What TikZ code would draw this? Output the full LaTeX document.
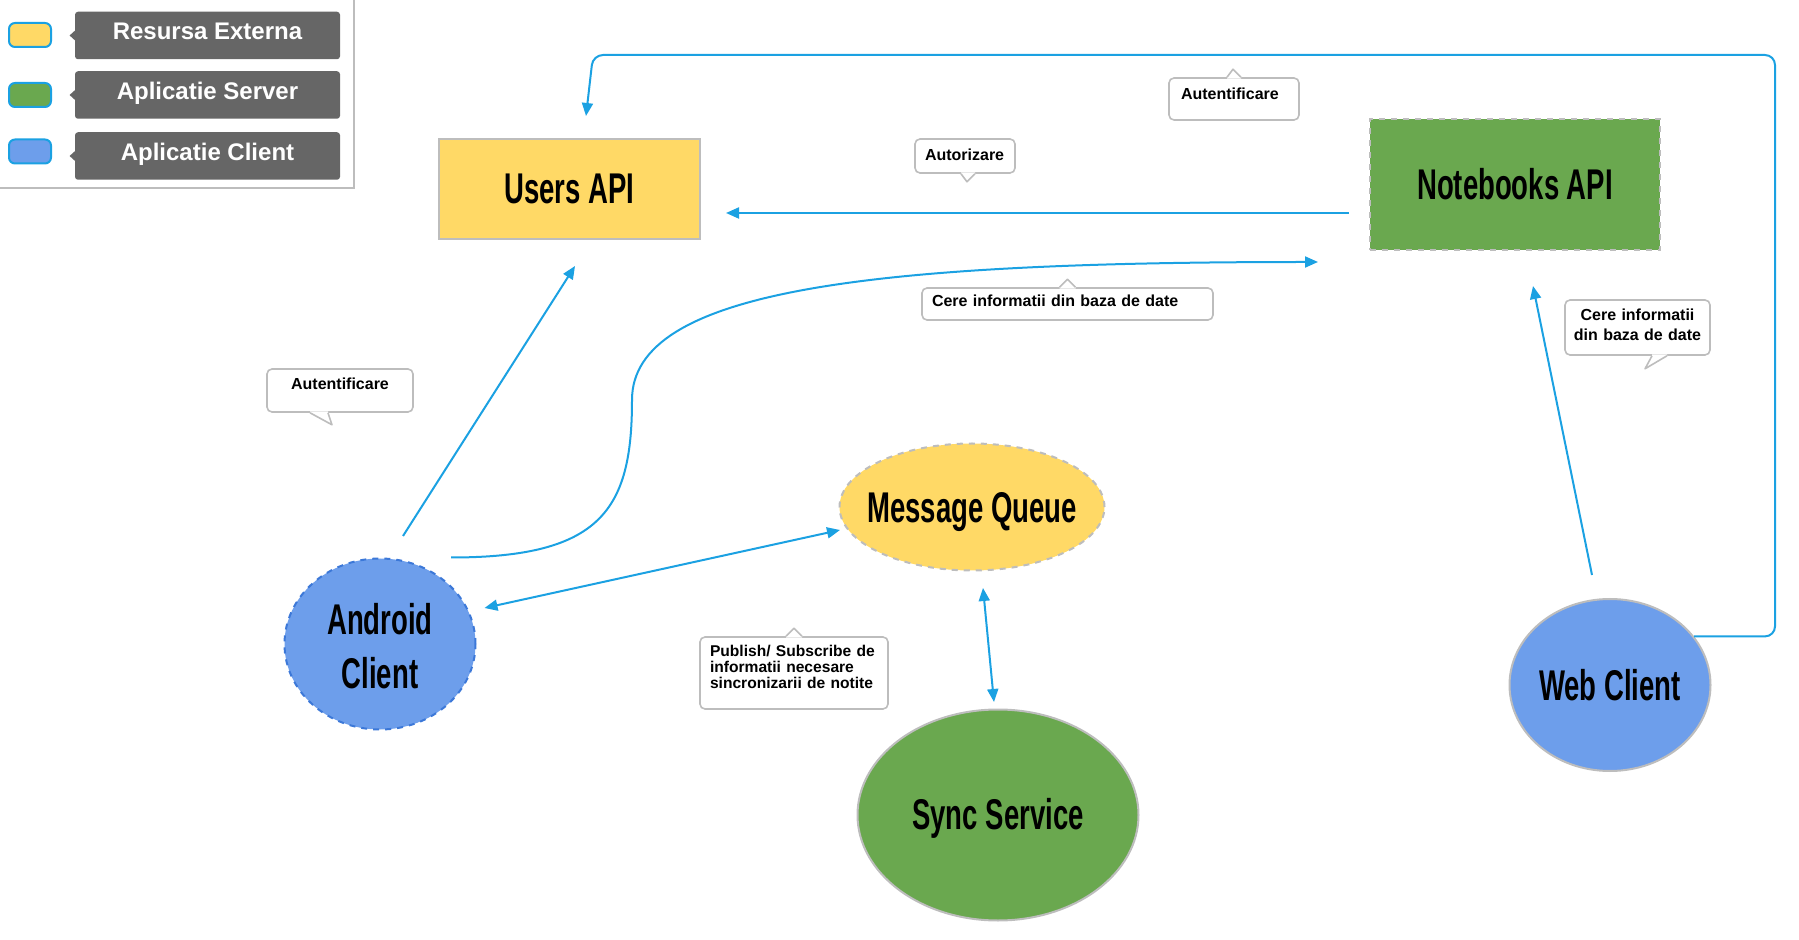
\documentclass[tikz,border=0pt]{standalone}
\usepackage{fontspec}
\setmainfont{Liberation Sans}
\newfontfamily\oswfont[FakeStretch=0.64]{Liberation Sans}
\usetikzlibrary{arrows.meta,shapes.geometric,calc}
\definecolor{cblue}{HTML}{1BA1E2}
\definecolor{cyellow}{HTML}{FFD966}
\definecolor{cgreen}{HTML}{6AA84F}
\definecolor{cclient}{HTML}{6D9EEB}
\definecolor{cgray}{HTML}{BDBDBD}
\definecolor{cdark}{HTML}{666666}
\definecolor{cdashblue}{HTML}{3C78D8}
\newcommand\calloutTip[7]{%
  \fill[white] ($(#1.#2)+(#3,#7)$) -- ($(#1.#2)+(#3,0)$) -- ($(#1.#2)+(#5,#6)$) -- ($(#1.#2)+(#4,0)$) -- ($(#1.#2)+(#4,#7)$) -- cycle;
  \draw[cgray,line width=0.8pt,line join=round] ($(#1.#2)+(#3,0)$) -- ($(#1.#2)+(#5,#6)$) -- ($(#1.#2)+(#4,0)$);}
\newcommand\legTip[1]{%
  \fill[cdark] ($(#1.west)+(0.5,-5)$) -- ($(#1.west)+(-5,0)$) -- ($(#1.west)+(0.5,5)$) -- cycle;}
\begin{document}
\begin{tikzpicture}[x=0.5pt,y=-0.5pt,
  conn/.style={draw=cblue,line width=1pt,-{Triangle[length=6.5pt,width=5.5pt]}},
  biconn/.style={draw=cblue,line width=1pt,{Triangle[length=6.5pt,width=5.5pt]}-{Triangle[length=6.5pt,width=5.5pt]}},
  mainlbl/.style={font=\oswfont\bfseries\fontsize{21.5}{27}\selectfont,text=black,align=center,inner sep=0pt},
  apibox/.style={mainlbl,rectangle,line width=1pt},
  oval/.style={ellipse,line width=1pt,inner sep=0pt},
  callout/.style={draw=cgray,fill=white,line width=0.8pt,rounded corners=2.5pt,font=\bfseries\fontsize{8}{10}\selectfont,inner ysep=2pt,inner xsep=5pt},
  legbox/.style={fill=cdark,rounded corners=1.5pt,text=white,font=\bfseries\fontsize{12}{14}\selectfont,minimum width=132.5pt,text height=14pt,text depth=9.75pt,inner sep=0pt},
  swatch/.style={draw=cblue,line width=1pt,rounded corners=3pt,minimum width=21pt,minimum height=12pt,inner sep=0pt},
]
\useasboundingbox (0,0) rectangle (1799,940);

% legend
\draw[cgray,line width=1pt] (354,-5) -- (354,188) -- (-5,188);
\node[swatch,fill=cyellow] (sw1) at (30,35) {};
\node[swatch,fill=cgreen] (sw2) at (30,95) {};
\node[swatch,fill=cclient] (sw3) at (30,151.5) {};
\node[legbox] (leg1) at (207.5,35.5) {Resursa Externa};
\node[legbox] (leg2) at (207.5,95) {Aplicatie Server};
\node[legbox] (leg3) at (207.5,156) {Aplicatie Client};
\legTip{leg1}\legTip{leg2}\legTip{leg3}

% main nodes
\node[apibox,fill=cyellow,draw=cgray,minimum width=130.5pt,minimum height=50pt] (users) at (569.5,189) {Users API};
\node[apibox,fill=cgreen,draw=cgray,dashed,minimum width=145pt,minimum height=65.5pt] (nb) at (1515,184.5) {Notebooks API};
\node[oval,fill=cyellow,draw=cgray,dashed,minimum width=132.5pt,minimum height=63.5pt,label={[mainlbl,yshift=-2.5pt]center:Message Queue}] (mq) at (972,507) {};
\node[oval,fill=cclient,draw=cdashblue,dashed,minimum width=95.5pt,minimum height=85.5pt,label={[mainlbl,yshift=-1pt]center:Android\\Client}] (android) at (380,644) {};
\node[oval,fill=cclient,draw=cgray,minimum width=100.5pt,minimum height=86pt,label={[mainlbl]center:Web Client}] (web) at (1610,685) {};
\node[oval,fill=cgreen,draw=cgray,minimum width=140.5pt,minimum height=105.5pt,label={[mainlbl,yshift=-1.5pt]center:Sync Service}] (sync) at (998,815) {};

% connectors
\coordinate (bend) at (632,400);
\coordinate (loopR) at (1775,55);
\coordinate (loopL) at (593,55);
\draw[conn] ($(nb.west)+(-20,28.5)$) -- ($(users.east)+(25,24)$);
\draw[conn] ($(android.north)+(23,-21.5)$) -- ($(users.south)+(5.5,26)$);
\draw[conn] ($(android.north)+(71,0)$) .. controls +(150,0) and +(0,110) .. (bend)
  .. controls +(0,-110) and +(-450,0) .. ($(nb.west)+(-51,77.5)$);
\draw[biconn] ($(android.east)+(8,-36)$) -- ($(mq.west)+(1.5,23)$);
\draw[biconn] ($(mq.south)+(11,16.5)$) -- ($(sync.north)+(-4,-6.5)$);
\draw[conn] ($(web.north)+(-18,-23)$) -- ($(nb.south)+(18,35)$);
\draw[conn,rounded corners=5pt] (web.30) -| (loopR) -- (loopL) -- ($(users.north)+(16.5,-22)$);

% callouts
\node[callout,text width=53pt,align=left,inner xsep=6pt,inner ysep=3pt,text height=8pt,text depth=7pt] (cAuthTop) at (1234,99) {Autentificare};
\calloutTip{cAuthTop}{north}{-7}{7}{-1}{-8}{1.5}
\node[callout,text width=40pt,align=left,text height=9pt,text depth=4pt] (cAutor) at (965,156) {Autorizare};
\calloutTip{cAutor}{south}{-4}{10}{2}{8}{-1.5}
\node[callout,text width=135.5pt,align=left,text height=7.5pt,text depth=4.5pt] (cCere) at (1067.5,304) {Cere informatii din baza de date};
\calloutTip{cCere}{north}{-8}{8}{0}{-8}{1.5}
\node[callout,text width=70pt,inner xsep=1.25pt,align=center,minimum height=27.5pt,text depth=12.5pt] (cCereR) at (1637.5,327.5) {Cere informatii\\din baza de date};
\calloutTip{cCereR}{south}{14.5}{29.5}{7.5}{13}{-1.5}
\node[callout,text width=63pt,align=center,text height=8.5pt,text depth=9pt] (cAuthL) at (340,390.5) {Autentificare};
\calloutTip{cAuthL}{south}{-30}{-12}{-8}{12}{-1.5}
\node[callout,text width=84pt,align=left,minimum height=36pt,text depth=22pt,font=\bfseries\fontsize{7.8}{7.9}\selectfont] (cPub) at (794,673) {Publish/ Subscribe de\\informatii necesare\\sincronizarii de notite};
\calloutTip{cPub}{north}{-8}{8}{0}{-8}{1.5}
\end{tikzpicture}
\end{document}
